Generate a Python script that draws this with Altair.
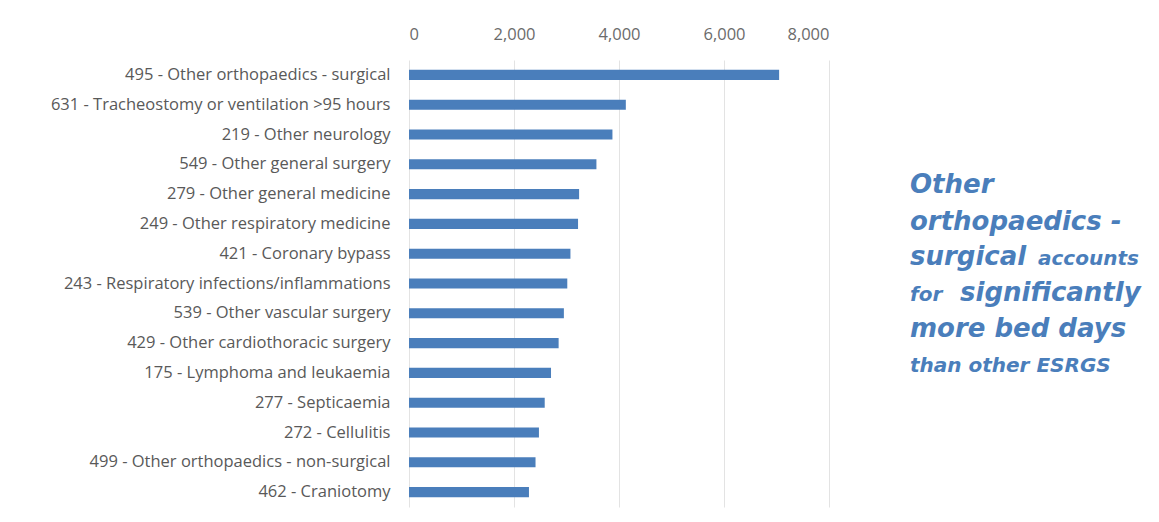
import altair as alt
import pandas as pd

categories = [
    "495 - Other orthopaedics - surgical",
    "631 - Tracheostomy or ventilation >95 hours",
    "219 - Other neurology",
    "549 - Other general surgery",
    "279 - Other general medicine",
    "249 - Other respiratory medicine",
    "421 - Coronary bypass",
    "243 - Respiratory infections/inflammations",
    "539 - Other vascular surgery",
    "429 - Other cardiothoracic surgery",
    "175 - Lymphoma and leukaemia",
    "277 - Septicaemia",
    "272 - Cellulitis",
    "499 - Other orthopaedics - non-surgical",
    "462 - Craniotomy",
]
bed_days = [7050, 4130, 3875, 3570, 3240, 3220, 3075, 3015, 2950, 2850, 2705, 2585, 2475, 2410, 2285]
x_ticks = [0, 2000, 4000, 6000, 8000]

# annotation pieces: text, size, page x, page baseline y
note_text = ["Other", "orthopaedics -", "surgical", "accounts", "for", "significantly",
             "more bed days", "than other ESRGS"]
note_size = [26, 26, 26, 20, 20, 26, 26, 20]
note_x = [910, 910, 910, 1038, 910, 960, 910, 910]
note_y = [193, 230, 265, 265, 301, 301, 337, 372]

BLUE = "#4A7EBB"
GREY = "#595959"
PLOT_LEFT = 409
PLOT_TOP = 60

df = pd.DataFrame({"cat": categories, "val": bed_days})

bars = alt.Chart(df).mark_bar(color=BLUE).encode(
    x=alt.X("val:Q",
            scale=alt.Scale(domain=[0, 8000], nice=False),
            axis=alt.Axis(orient="top", values=x_ticks, format=",.0f", title=None,
                          ticks=False, domain=False, labelPadding=18,
                          labelFont="Open Sans", labelFontSize=16.5, labelColor="#6b6b6b",
                          grid=True, gridColor="#e3e3e3", gridWidth=1)),
    y=alt.Y("cat:N", sort=None,
            scale=alt.Scale(paddingInner=0.66, paddingOuter=0.33),
            axis=alt.Axis(title=None, ticks=False, domain=False, labelPadding=19,
                          labelFont="Open Sans", labelFontSize=16.5, labelColor=GREY,
                          labelLimit=500)),
)

layers = [bars]
for t, s, px, py in zip(note_text, note_size, note_x, note_y):
    layers.append(
        alt.Chart(pd.DataFrame({"t": [t]})).mark_text(
            font="DejaVu Sans", fontWeight="bold", fontStyle="italic",
            fontSize=s, color=BLUE, align="left", baseline="alphabetic"
        ).encode(
            text="t:N",
            x=alt.value(px - PLOT_LEFT),
            y=alt.value(py - PLOT_TOP),
        )
    )

chart = alt.layer(*layers).properties(
    width=420, height=447,
    autosize=alt.AutoSizeParams(type="none"),
    padding={"left": PLOT_LEFT - 8, "top": PLOT_TOP - 8, "right": 1151 - PLOT_LEFT - 420, "bottom": 4},
).configure_view(stroke=None)

chart.save("out.html", embed_options={"renderer": "svg", "actions": False})
